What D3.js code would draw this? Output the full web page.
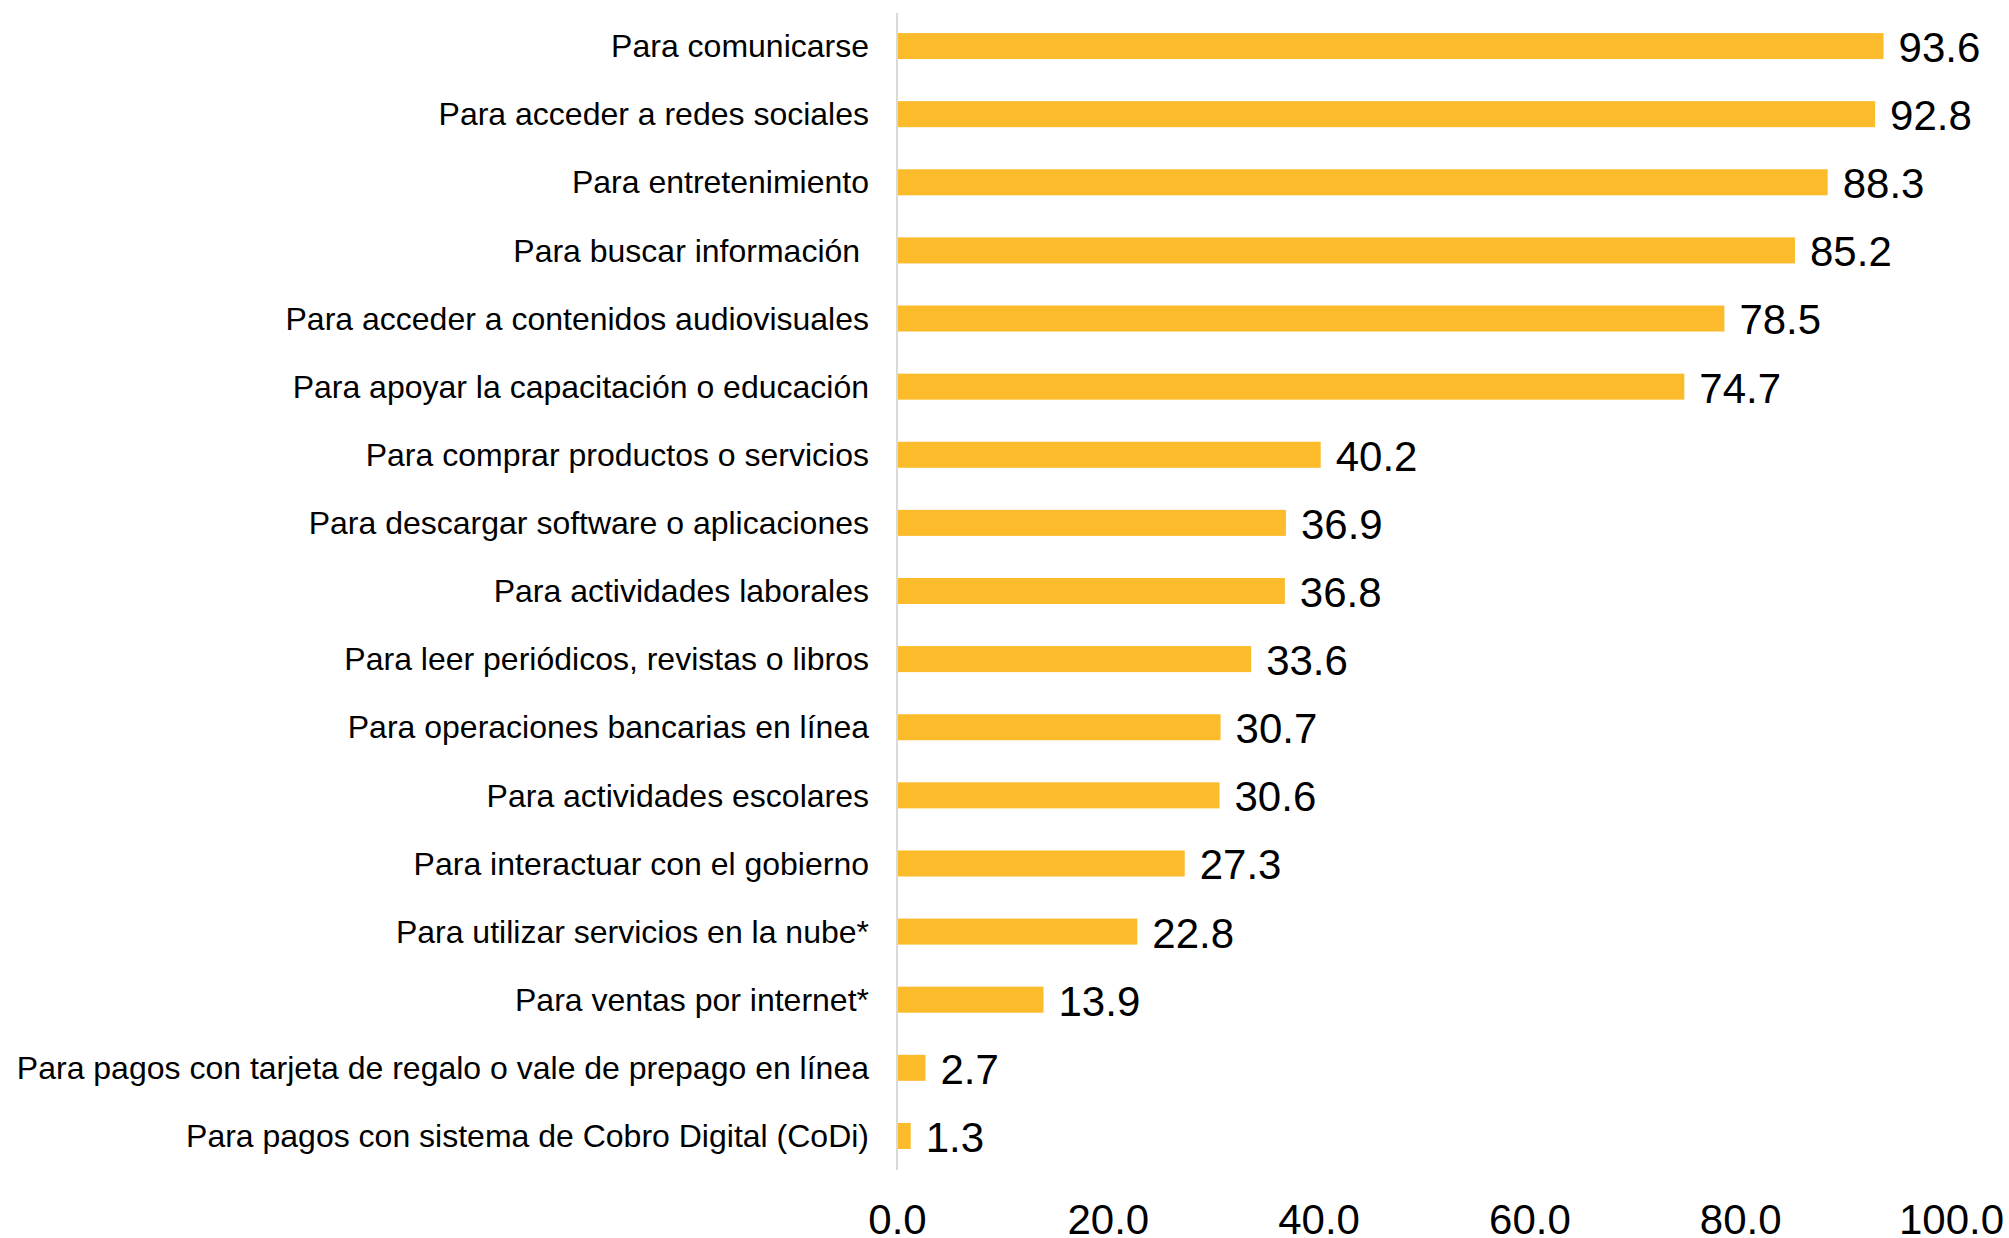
<!DOCTYPE html>
<html>
<head>
<meta charset="utf-8">
<script src="https://cdn.jsdelivr.net/npm/d3@7"></script>
<style>
  html, body { margin: 0; padding: 0; background: #fff; }
  svg { display: block; font-family: "Liberation Sans", Arial, sans-serif; }
</style>
</head>
<body>
<svg id="chart" width="2009" height="1238"></svg>
<script>
// Usos de internet (%)
const categories = [
  "Para comunicarse",
  "Para acceder a redes sociales",
  "Para entretenimiento",
  "Para buscar información ",
  "Para acceder a contenidos audiovisuales",
  "Para apoyar la capacitación o educación",
  "Para comprar productos o servicios",
  "Para descargar software o aplicaciones",
  "Para actividades laborales",
  "Para leer periódicos, revistas o libros",
  "Para operaciones bancarias en línea",
  "Para actividades escolares",
  "Para interactuar con el gobierno",
  "Para utilizar servicios en la nube*",
  "Para ventas por internet*",
  "Para pagos con tarjeta de regalo o vale de prepago en línea",
  "Para pagos con sistema de Cobro Digital (CoDi)"
];
const values = [93.6, 92.8, 88.3, 85.2, 78.5, 74.7, 40.2, 36.9, 36.8, 33.6, 30.7, 30.6, 27.3, 22.8, 13.9, 2.7, 1.3];
const xTicks = [0, 20, 40, 60, 80, 100];

const svg = d3.select("#chart");
const x0 = 897, x1 = 1951, yTop = 12, yBottom = 1170;

const x = d3.scaleLinear().domain([0, 100]).range([x0, x1]);
const y = d3.scaleBand().domain(categories).range([yTop, yBottom])
  .paddingInner(0.618).paddingOuter(0.309);

// bars
svg.append("g").selectAll("rect").data(values).join("rect")
  .attr("x", x(0) + 1)
  .attr("y", (d, i) => y(categories[i]))
  .attr("width", d => x(d) - x(0) - 1)
  .attr("height", y.bandwidth())
  .attr("fill", "#FBBB2B");

// vertical category axis line
svg.append("line")
  .attr("x1", x0).attr("x2", x0)
  .attr("y1", 13).attr("y2", yBottom)
  .attr("stroke", "#D9D9D9").attr("stroke-width", 2);

// category labels
svg.append("g").selectAll("text").data(categories).join("text")
  .attr("x", x0 - 28)
  .attr("y", d => y(d) + y.bandwidth() / 2)
  .attr("dy", "0.35em")
  .attr("text-anchor", "end")
  .style("white-space", "pre")
  .attr("font-size", 32)
  .attr("fill", "#000")
  .text(d => d);

// value labels
svg.append("g").selectAll("text").data(values).join("text")
  .attr("x", d => x(d) + 15)
  .attr("y", (d, i) => y(categories[i]) + y.bandwidth() / 2)
  .attr("dy", "0.38em")
  .attr("font-size", 42)
  .attr("fill", "#000")
  .text(d => d.toFixed(1));

// value axis
const xAxis = d3.axisBottom(x).tickValues(xTicks).tickSize(0).tickPadding(34)
  .tickFormat(d => d.toFixed(1));
const gx = svg.append("g").attr("transform", `translate(0,${yBottom})`).call(xAxis);
gx.select(".domain").remove();
gx.selectAll("text")
  .attr("font-size", 42)
  .attr("font-family", "Liberation Sans, Arial, sans-serif")
  .attr("fill", "#000");
</script>
</body>
</html>
